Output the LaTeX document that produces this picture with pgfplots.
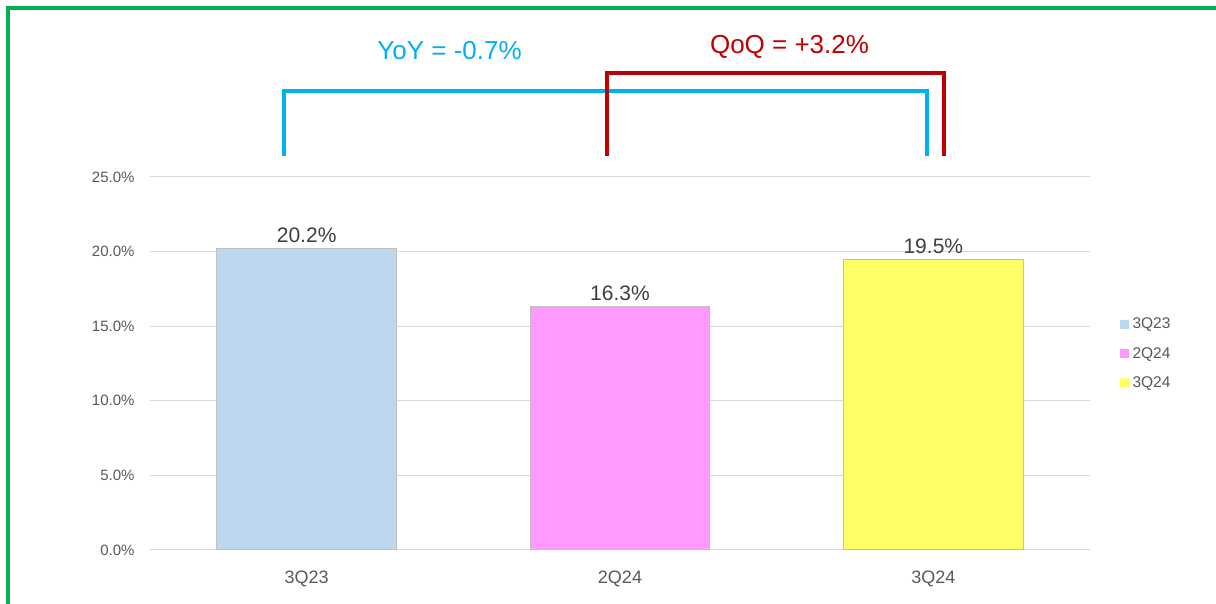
\documentclass[border=0pt]{standalone}
\usepackage{pgfplots}
\pgfplotsset{compat=1.18}
\usepackage{fontspec}
\setmainfont{Liberation Sans}
\definecolor{frame}{HTML}{00B050}
\definecolor{yoy}{HTML}{00B0F0}
\definecolor{qoq}{HTML}{C00000}
\definecolor{cA}{HTML}{BDD7EE}
\definecolor{cB}{HTML}{FF99FF}
\definecolor{cC}{HTML}{FFFF66}
\definecolor{txt}{HTML}{595959}
\definecolor{grd}{HTML}{D9D9D9}
\begin{document}
\begin{tikzpicture}
\useasboundingbox (0,0) rectangle (1216pt,604pt);
\fill[white] (0,0) rectangle (1216pt,604pt);
% green frame (left and top only)
\draw[frame, line width=3.5pt] (8pt,0) -- (8pt,596pt) -- (1216pt,596pt);
\begin{axis}[
  at={(150pt,54pt)}, anchor=south west,
  scale only axis, width=940pt, height=373pt,
  xmin=-0.5, xmax=2.5, ymin=0, ymax=25,
  ytick={0,5,10,15,20,25},
  xtick={0,1,2}, xticklabels={3Q23,2Q24,3Q24},
  ymajorgrids, grid style={grd, line width=1pt},
  axis x line*=bottom, axis y line*=left,
  x axis line style={grd, line width=1pt, -},
  y axis line style={draw=none},
  major tick length=0pt,
  /pgf/number format/assume math mode=true,
  yticklabel={\pgfmathprintnumber[fixed,fixed zerofill,precision=1]{\tick}\%},
  yticklabel style={font=\fontsize{15}{18}\selectfont, text=txt, xshift=-12pt},
  xticklabel style={font=\fontsize{18}{21}\selectfont, text=txt, yshift=-17pt},
  clip=false,
  ybar, bar width=0.574, bar shift=0pt,
  nodes near coords={\pgfmathprintnumber[fixed,fixed zerofill,precision=1]{\pgfplotspointmeta}\%},
  nodes near coords style={font=\fontsize{21}{24}\selectfont, text=black!75, yshift=2pt},
  legend style={at={(1.028,0.633)}, anchor=north west, draw=none, fill=none,
    font=\fontsize{15.5}{18}\selectfont, text=txt, row sep=13pt,
    /tikz/every odd column/.append style={column sep=2pt}},
  legend image code/.code={\fill[#1, draw=none] (0pt,-4.5pt) rectangle (9pt,4.5pt);},
]
\addplot[fill=cA, draw=black!25, line width=1pt] coordinates {(0,20.2)};
\addlegendentry{3Q23}
\addplot[fill=cB, draw=black!25, line width=1pt] coordinates {(1,16.3)};
\addlegendentry{2Q24}
\addplot[fill=cC, draw=black!25, line width=1pt] coordinates {(2,19.5)};
\addlegendentry{3Q24}
% comparison brackets
\draw[yoy, line width=4pt] (axis cs:-0.073,26.4) -- (axis cs:-0.073,30.76) -- (axis cs:1.981,30.76) -- (axis cs:1.981,26.4);
\draw[qoq, line width=4pt] (axis cs:0.960,26.4) -- (axis cs:0.960,32.0) -- (axis cs:2.035,32.0) -- (axis cs:2.035,26.4);
\node[yoy, font=\fontsize{26}{30}\selectfont] at (axis cs:0.456,33.5) {YoY = -0.7\%};
\node[qoq, font=\fontsize{26}{30}\selectfont] at (axis cs:1.541,33.7) {QoQ = +3.2\%};
\end{axis}
\end{tikzpicture}
\end{document}
